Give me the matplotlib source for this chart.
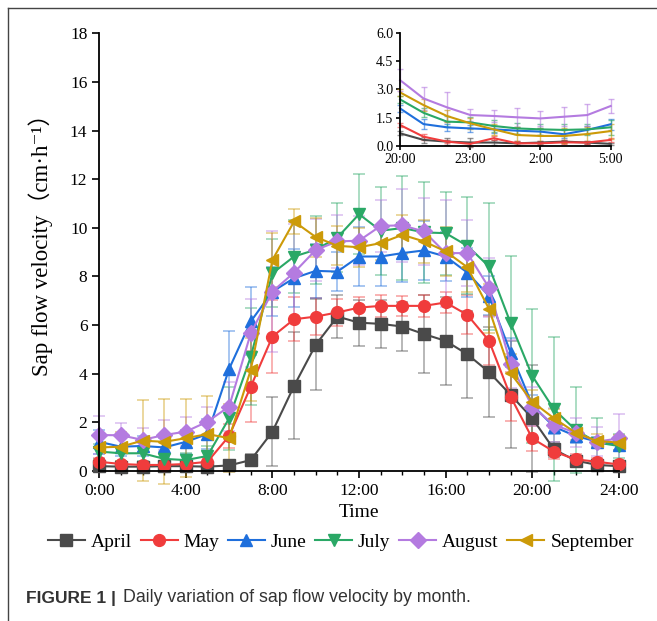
#!/usr/bin/env python

""" Daily variation of sap flow velocity by month, with a night-time inset. """

import matplotlib
matplotlib.use("Agg")
import matplotlib.pyplot as plt
from matplotlib.lines import Line2D
from matplotlib.ticker import MultipleLocator

plt.rcParams["font.family"] = ["Liberation Serif", "DejaVu Serif", "Noto Sans CJK SC"]

months = ["April", "May", "June", "July", "August", "September"]
colors = ["#4a4a4a", "#f03c3c", "#1f6fdc", "#2aa866", "#b47be0", "#cc9a08"]
markers = ["s", "o", "^", "v", "D", "<"]

hours = list(range(25))
hour_labels = ["0:00", "4:00", "8:00", "12:00", "16:00", "20:00", "24:00"]

april = [0.20, 0.18, 0.18, 0.20, 0.20, 0.18, 0.23, 0.45, 1.62, 3.50, 5.19, 6.35, 6.10,
         6.05, 5.94, 5.63, 5.35, 4.80, 4.07, 3.13, 2.17, 0.89, 0.43, 0.25, 0.20]
may = [0.38, 0.29, 0.25, 0.25, 0.29, 0.38, 1.44, 3.47, 5.53, 6.24, 6.35, 6.52, 6.72,
       6.79, 6.79, 6.79, 6.93, 6.42, 5.36, 3.06, 1.34, 0.80, 0.48, 0.38, 0.27]
june = [1.20, 1.00, 1.03, 0.97, 1.20, 1.52, 4.20, 6.15, 7.38, 7.93, 8.23, 8.20, 8.82,
        8.82, 8.96, 9.07, 8.82, 8.16, 7.20, 4.87, 2.72, 1.82, 1.44, 1.21, 1.07]
july = [0.80, 0.73, 0.73, 0.50, 0.45, 0.62, 2.17, 4.70, 8.13, 8.82, 9.10, 9.60, 10.56,
        9.88, 9.99, 9.81, 9.78, 9.26, 8.41, 6.08, 3.91, 2.54, 1.69, 1.17, 1.03]
august = [1.48, 1.47, 1.28, 1.48, 1.62, 2.03, 2.65, 5.67, 7.38, 8.16, 9.09, 9.44, 9.47,
          10.08, 10.10, 9.85, 8.96, 8.96, 7.54, 4.40, 2.65, 1.89, 1.58, 1.21, 1.34]
september = [0.97, 1.00, 1.25, 1.20, 1.35, 1.52, 1.35, 4.16, 8.68, 10.26, 9.62, 9.26, 9.20,
             9.37, 9.71, 9.44, 9.03, 8.38, 6.67, 4.02, 2.85, 2.17, 1.58, 1.23, 1.17]

april_err = [0.08, 0.08, 0.08, 0.10, 0.10, 0.10, 0.10, 0.25, 1.42, 2.20, 1.87, 0.90, 0.95,
             1.00, 1.00, 1.60, 1.80, 1.80, 1.85, 2.20, 2.20, 0.30, 0.20, 0.15, 0.10]
may_err = [0.15, 0.10, 0.10, 0.10, 0.15, 0.20, 0.50, 1.45, 1.50, 0.90, 0.75, 0.55, 0.45,
           0.45, 0.40, 0.45, 0.45, 0.80, 1.00, 1.00, 0.50, 0.30, 0.20, 0.15, 0.10]
june_err = [0.50, 0.40, 0.40, 0.40, 0.50, 0.60, 1.57, 1.40, 1.00, 1.20, 1.10, 0.80, 1.20,
            1.20, 1.20, 1.20, 1.00, 1.00, 0.80, 0.60, 0.40, 0.30, 0.30, 0.20, 0.20]
july_err = [0.30, 0.30, 0.30, 0.30, 0.30, 0.40, 1.30, 2.00, 1.40, 1.50, 1.40, 1.40, 1.65,
            1.80, 2.15, 2.06, 1.70, 2.00, 2.60, 2.77, 2.74, 2.95, 1.78, 1.00, 0.50]
august_err = [0.80, 0.50, 0.50, 0.60, 0.60, 0.60, 1.00, 1.40, 2.47, 2.00, 1.27, 1.10, 1.00,
              1.07, 1.50, 1.37, 2.20, 1.37, 1.20, 1.00, 0.80, 0.70, 0.60, 0.60, 1.00]
september_err = [0.50, 0.60, 1.65, 1.75, 1.60, 1.55, 1.40, 1.30, 1.10, 0.50, 0.80, 0.80, 0.80,
                 0.70, 0.80, 0.90, 1.00, 1.00, 1.00, 0.80, 0.50, 0.40, 0.30, 0.30, 0.30]

# night-time inset, 20:00 .. 5:00
night_steps = list(range(10))
night_labels = ["20:00", "23:00", "2:00", "5:00"]
april_night = [0.67, 0.32, 0.23, 0.18, 0.18, 0.14, 0.18, 0.23, 0.18, 0.11]
may_night = [1.11, 0.49, 0.23, 0.11, 0.41, 0.14, 0.14, 0.19, 0.18, 0.32]
june_night = [1.99, 1.16, 0.99, 0.93, 0.88, 0.81, 0.76, 0.62, 0.85, 1.15]
july_night = [2.47, 1.76, 1.29, 1.25, 1.06, 0.93, 0.88, 0.85, 0.88, 0.99]
august_night = [3.49, 2.52, 2.05, 1.64, 1.59, 1.52, 1.46, 1.55, 1.64, 2.12]
september_night = [2.84, 2.17, 1.59, 1.20, 0.88, 0.58, 0.53, 0.53, 0.63, 0.79]

april_night_err = [0.10, 0.15, 0.20, 0.25, 0.15, 0.10, 0.10, 0.10, 0.10, 0.05]
may_night_err = [0.10, 0.15, 0.10, 0.10, 0.10, 0.10, 0.10, 0.10, 0.10, 0.10]
june_night_err = [0.20, 0.25, 0.20, 0.20, 0.20, 0.20, 0.20, 0.20, 0.20, 0.30]
july_night_err = [0.20, 0.25, 0.30, 0.30, 0.30, 0.30, 0.30, 0.30, 0.30, 0.40]
august_night_err = [0.60, 0.60, 0.80, 0.30, 0.30, 0.50, 0.40, 0.50, 0.60, 0.35]
september_night_err = [0.20, 0.30, 0.30, 0.30, 0.30, 0.40, 0.40, 0.40, 0.40, 0.40]

day_series = [april, may, june, july, august, september]
day_errors = [april_err, may_err, june_err, july_err, august_err, september_err]
night_series = [april_night, may_night, june_night, july_night, august_night, september_night]
night_errors = [april_night_err, may_night_err, june_night_err, july_night_err,
                august_night_err, september_night_err]


def style_axes(ax):
    for side in ("top", "right"):
        ax.spines[side].set_visible(False)
    for side in ("left", "bottom"):
        ax.spines[side].set_linewidth(1.3)
    ax.tick_params(direction="out", width=1.2)


fig = plt.figure(figsize=(6.57, 6.21), dpi=100)
ax = fig.add_axes([0.151, 0.2415, 0.791, 0.705])

handles = []
for name, color, marker, values, errs in zip(months, colors, markers, day_series, day_errors):
    eb = ax.errorbar(hours, values, yerr=errs, color=color, marker=marker, markersize=8.5,
                     linewidth=1.5, ecolor=color, elinewidth=1.1,
                     capsize=4, capthick=1.1, clip_on=False)
    for part in eb[1] + eb[2]:
        part.set_alpha(0.5)
    handles.append(Line2D([], [], color=color, marker=marker, markersize=8.5,
                          linewidth=1.5, label=name))

ax.set_xlim(0, 24)
ax.set_ylim(0, 18)
ax.set_xticks(range(0, 25, 4))
ax.set_xticklabels(hour_labels)
ax.xaxis.set_minor_locator(MultipleLocator(1))
ax.yaxis.set_major_locator(MultipleLocator(2))
style_axes(ax)
ax.tick_params(which="major", length=5, labelsize=12.5)
ax.tick_params(which="minor", length=3, width=1.0)
ax.set_xlabel("Time", fontsize=14, labelpad=4)
ax.set_ylabel("Sap flow velocity（cm·h⁻¹）", fontsize=16.5)
ax.yaxis.set_label_coords(-0.088, 0.53)

ax.legend(handles=handles, loc="upper center", bbox_to_anchor=(0.465, -0.125), ncol=6,
          frameon=False, fontsize=14, handlelength=1.9, handletextpad=0.3,
          columnspacing=0.45, borderaxespad=0)

# inset with the night hours
inset = fig.add_axes([0.609, 0.765, 0.3205, 0.182])
for color, values, errs in zip(colors, night_series, night_errors):
    eb = inset.errorbar(night_steps, values, yerr=errs, color=color, linewidth=1.5,
                        ecolor=color, elinewidth=1.0, capsize=2, capthick=1.0,
                        clip_on=False)
    for part in eb[1] + eb[2]:
        part.set_alpha(0.6)
inset.set_xlim(0, 9)
inset.set_ylim(0, 6)
inset.set_xticks([0, 3, 6, 9])
inset.set_xticklabels(night_labels)
inset.set_yticks([0, 1.5, 3.0, 4.5, 6.0])
inset.set_yticklabels(["0.0", "1.5", "3.0", "4.5", "6.0"])
style_axes(inset)
inset.tick_params(length=3, labelsize=10, pad=2)

# page frame and caption
fig.add_artist(Line2D([8 / 657, 8 / 657], [0, 1 - 8 / 621], color="#444444", linewidth=1.0))
fig.add_artist(Line2D([8 / 657, 1], [1 - 8 / 621, 1 - 8 / 621], color="#444444", linewidth=1.0))
label = fig.text(26 / 657, 1 - 598 / 621, "FIGURE 1 |", family="Liberation Sans",
                 weight="bold", fontsize=12.5, color="#333333", va="center")
ax.annotate("Daily variation of sap flow velocity by month.", xy=(1, 0.5), xycoords=label,
            xytext=(5, 0), textcoords="offset points", family="Liberation Sans",
            fontsize=12.8, color="#333333", va="center", annotation_clip=False)

fig.savefig("out.png", dpi=100)
